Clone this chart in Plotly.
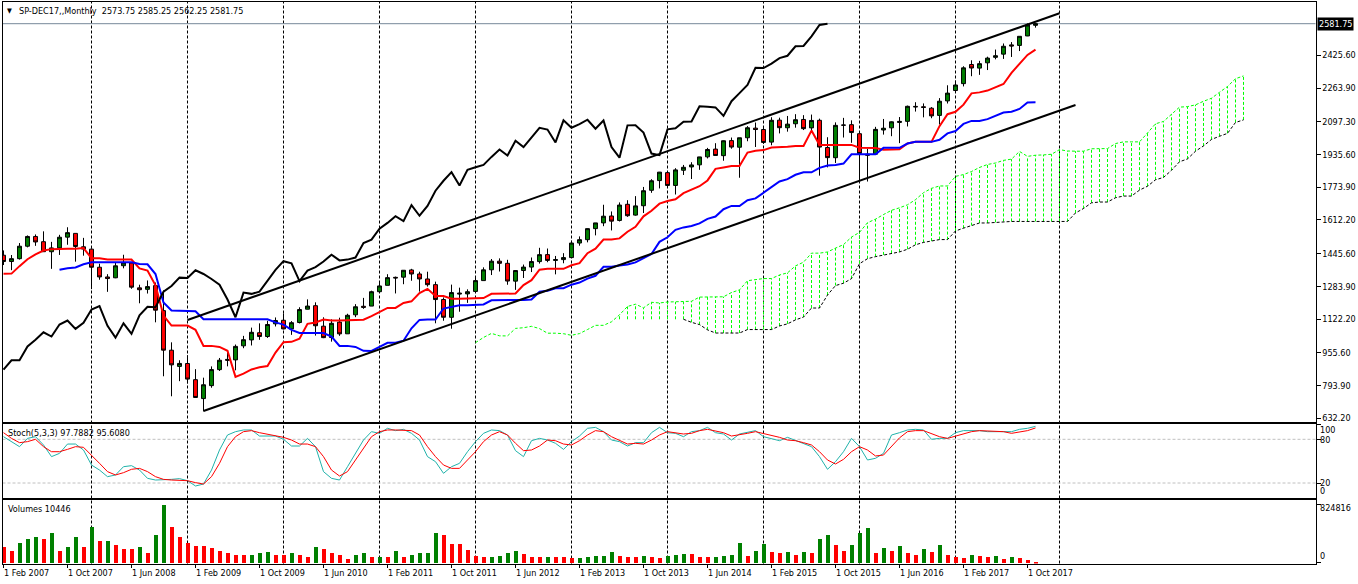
import plotly.graph_objects as go

# SP-DEC17 monthly, Feb 2007 .. Nov 2017 (bar index 0 = Feb 2007)
opens = [
    1437.9, 1406.8, 1420.8, 1482.4, 1530.6, 1504.7, 1455.2, 1474.0, 1527.3, 1545.8,
    1479.6, 1468.0, 1378.6, 1330.5, 1326.4, 1386.0, 1399.6, 1276.7, 1269.4, 1287.8,
    1164.2, 968.7, 888.6, 903.0, 823.1, 729.6, 793.6, 872.7, 923.3, 920.8,
    990.2, 1019.5, 1054.9, 1036.2, 1098.9, 1116.6, 1073.9, 1105.4, 1171.2, 1188.6,
    1087.3, 1031.1, 1107.5, 1049.7, 1143.5, 1185.7, 1186.6, 1257.6, 1289.1, 1328.6,
    1329.5, 1365.2, 1345.2, 1320.6, 1292.6, 1219.1, 1131.2, 1251.0, 1246.9, 1258.9,
    1312.5, 1365.9, 1408.5, 1397.9, 1309.9, 1362.3, 1379.3, 1406.5, 1440.9, 1412.2,
    1416.2, 1426.2, 1498.1, 1514.7, 1569.2, 1597.6, 1631.7, 1609.8, 1689.4, 1636.0,
    1682.4, 1758.7, 1806.6, 1845.9, 1782.7, 1857.7, 1874.0, 1884.4, 1923.9, 1962.3,
    1929.8, 2004.1, 1971.4, 2018.2, 2065.8, 2058.9, 1996.7, 2105.2, 2067.6, 2087.4,
    2108.6, 2067.0, 2104.5, 1970.1, 1919.7, 2080.8, 2082.9, 2038.2, 1936.9, 1937.1,
    2056.6, 2067.2, 2093.9, 2099.3, 2173.2, 2171.3, 2164.3, 2128.7, 2200.2, 2251.6,
    2285.6, 2380.1, 2362.3, 2388.5, 2415.6, 2431.4, 2477.1, 2474.4, 2521.2, 2573.75,
]
highs = [
    1461.6, 1438.9, 1498.0, 1535.6, 1540.6, 1555.9, 1503.9, 1538.7, 1576.1, 1545.8,
    1523.6, 1471.8, 1396.0, 1344.2, 1404.0, 1440.2, 1404.1, 1292.2, 1313.2, 1303.0,
    1264.3, 1007.5, 918.9, 943.9, 875.0, 833.0, 888.7, 930.2, 956.2, 996.7,
    1039.5, 1080.2, 1101.4, 1113.7, 1130.4, 1150.5, 1112.4, 1180.7, 1219.8, 1205.1,
    1131.2, 1121.0, 1129.2, 1148.7, 1196.1, 1227.1, 1262.6, 1302.7, 1344.1, 1332.3,
    1364.6, 1370.6, 1356.5, 1356.5, 1307.4, 1229.3, 1292.7, 1277.6, 1269.4, 1333.5,
    1378.0, 1419.2, 1422.4, 1415.3, 1363.5, 1391.7, 1426.7, 1474.5, 1471.0, 1434.3,
    1448.0, 1509.9, 1530.9, 1570.3, 1597.6, 1687.2, 1654.2, 1698.8, 1709.7, 1729.9,
    1775.2, 1813.6, 1849.4, 1850.8, 1867.9, 1884.0, 1897.3, 1924.0, 1968.2, 1991.4,
    2005.0, 2019.3, 2018.2, 2075.8, 2093.6, 2072.4, 2119.6, 2117.5, 2125.9, 2134.7,
    2129.9, 2132.8, 2112.7, 2020.9, 2094.3, 2116.5, 2104.3, 2038.2, 1963.0, 2072.2,
    2111.1, 2099.1, 2120.6, 2177.1, 2193.8, 2187.9, 2169.6, 2214.1, 2277.5, 2301.0,
    2371.5, 2401.0, 2398.2, 2418.7, 2454.0, 2484.0, 2490.9, 2519.4, 2583.0, 2585.25,
]
lows = [
    1389.4, 1364.0, 1416.4, 1476.7, 1484.2, 1454.3, 1370.6, 1439.3, 1489.6, 1406.1,
    1435.7, 1270.1, 1316.8, 1257.0, 1324.4, 1373.1, 1272.0, 1200.4, 1248.6, 1106.4,
    839.8, 741.0, 815.7, 804.3, 734.5, 666.8, 783.3, 866.1, 888.9, 869.3,
    978.5, 992.0, 1020.0, 1029.4, 1085.9, 1071.6, 1044.5, 1101.0, 1170.7, 1040.8,
    1028.3, 1010.9, 1039.7, 1049.7, 1131.9, 1173.0, 1186.6, 1257.6, 1289.1, 1249.1,
    1294.7, 1311.8, 1258.1, 1282.9, 1101.5, 1114.2, 1074.8, 1158.7, 1202.4, 1258.9,
    1312.5, 1340.0, 1357.4, 1292.0, 1266.7, 1325.4, 1354.7, 1396.6, 1403.3, 1343.4,
    1398.1, 1426.2, 1485.0, 1501.5, 1536.0, 1581.3, 1560.3, 1604.6, 1627.5, 1633.4,
    1646.5, 1746.2, 1768.0, 1770.5, 1737.9, 1834.4, 1814.4, 1859.8, 1916.0, 1930.7,
    1904.8, 1964.0, 1820.7, 2001.0, 1972.6, 1988.1, 1980.9, 2039.7, 2048.4, 2067.9,
    2056.3, 2044.0, 1831.0, 1871.9, 1893.7, 2019.4, 1993.3, 1804.0, 1802.0, 1937.1,
    2033.8, 2025.9, 1991.7, 2074.0, 2147.6, 2119.1, 2114.7, 2083.8, 2187.4, 2245.1,
    2271.7, 2322.3, 2329.0, 2352.7, 2405.7, 2407.7, 2417.4, 2446.6, 2520.4, 2562.25,
]
closes = [
    1406.8, 1420.9, 1482.4, 1530.6, 1503.4, 1455.3, 1474.0, 1526.8, 1549.4, 1481.1,
    1468.4, 1378.6, 1330.6, 1322.7, 1385.6, 1400.4, 1280.0, 1267.4, 1282.8, 1166.4,
    968.8, 896.2, 903.3, 825.9, 735.1, 797.9, 872.8, 919.1, 919.3, 987.5,
    1020.6, 1057.1, 1036.2, 1095.6, 1115.1, 1073.9, 1104.5, 1169.4, 1186.7, 1089.4,
    1030.7, 1101.6, 1049.3, 1141.2, 1183.3, 1180.6, 1257.6, 1286.1, 1327.2, 1325.8,
    1363.6, 1345.2, 1320.6, 1292.3, 1218.9, 1131.4, 1253.3, 1247.0, 1257.6, 1312.4,
    1365.7, 1408.5, 1397.9, 1310.3, 1362.2, 1379.3, 1406.6, 1440.7, 1412.2, 1416.2,
    1426.2, 1498.1, 1514.7, 1569.2, 1597.6, 1630.7, 1606.3, 1685.7, 1633.0, 1681.6,
    1756.5, 1805.8, 1848.4, 1782.6, 1859.5, 1872.3, 1884.0, 1923.6, 1960.2, 1930.7,
    2003.4, 1972.3, 2018.1, 2067.6, 2058.9, 1995.0, 2104.5, 2067.9, 2085.5, 2107.4,
    2063.1, 2103.8, 1972.2, 1920.0, 2079.4, 2080.4, 2043.9, 1940.2, 1932.2, 2059.7,
    2065.3, 2097.0, 2098.9, 2173.6, 2171.0, 2168.3, 2126.2, 2198.8, 2238.8, 2278.9,
    2363.6, 2362.7, 2384.2, 2411.8, 2423.4, 2470.3, 2471.7, 2519.4, 2575.3, 2581.75,
]
volumes = [
    224800, 178400, 281000, 337200, 375200, 337000, 431400, 178500, 224800, 375200,
    234700, 515700, 309100, 319000, 262800, 206600, 196700, 224800, 150300, 403300,
    824816, 505800, 375200, 281000, 248700, 245900, 215000, 178400, 140500, 122200,
    119400, 122300, 150300, 164400, 122200, 119400, 150300, 122200, 84300, 234700,
    196700, 140500, 122200, 56200, 122200, 140500, 84300, 94100, 84300, 178400,
    84300, 122200, 140500, 150300, 431400, 403300, 271200, 267000, 186900, 108200,
    84300, 94100, 108200, 150300, 178400, 130700, 94100, 84300, 94100, 91300,
    88500, 70300, 73100, 94100, 97000, 108200, 164400, 108200, 94100, 91300,
    108200, 84300, 70300, 108200, 111000, 130700, 127900, 84300, 82900, 94100,
    95500, 122200, 290900, 108200, 178400, 271200, 164400, 150300, 151700, 122200,
    164400, 150300, 337200, 403300, 262800, 178400, 262800, 431400, 501600, 150300,
    220600, 178400, 248700, 150300, 122200, 206600, 164400, 262800, 122200, 94100,
    80100, 122200, 108200, 94100, 108200, 66000, 94100, 80100, 52000, 10446,
]
stoch_k = [
    83.6, 76.8, 69.9, 81.3, 83.6, 72.2, 56.2, 60.7, 73.5, 73.5,
    65.3, 44.7, 37.8, 28.7, 31.0, 42.4, 43.8, 37.8, 26.4, 24.1,
    24.1, 25.0, 26.0, 23.2, 15.9, 18.6, 37.8, 65.3, 85.9, 90.5,
    92.8, 92.8, 84.5, 84.5, 84.5, 80.0, 70.8, 70.8, 81.3, 69.9,
    35.6, 26.4, 24.1, 42.4, 60.7, 79.0, 90.5, 88.2, 95.1, 91.9,
    93.7, 88.2, 79.0, 56.2, 49.3, 33.3, 42.4, 47.0, 63.0, 76.8,
    88.2, 92.8, 91.9, 85.9, 64.4, 56.2, 78.1, 81.3, 79.0, 74.5,
    66.2, 76.8, 84.5, 95.1, 96.4, 90.5, 79.0, 76.8, 70.8, 75.4,
    75.4, 89.1, 96.4, 89.1, 88.2, 83.6, 90.5, 91.9, 96.4, 89.1,
    87.3, 79.0, 87.3, 89.1, 91.9, 83.6, 81.3, 78.1, 82.7, 78.1,
    73.5, 69.9, 56.2, 38.8, 49.3, 63.0, 81.3, 69.9, 51.6, 53.9,
    60.7, 85.9, 89.1, 92.8, 93.7, 92.8, 80.0, 81.3, 81.3, 89.1,
    91.9, 91.9, 91.9, 90.5, 90.5, 90.5, 90.5, 93.7, 95.1, 97.79,
]
stoch_d = [
    89.1, 81.3, 75.4, 76.8, 80.0, 69.9, 63.0, 63.0, 66.2, 69.9,
    69.0, 58.4, 47.0, 35.6, 31.0, 34.2, 38.8, 40.1, 35.6, 28.7,
    25.0, 24.1, 24.1, 23.2, 20.5, 18.6, 28.7, 47.0, 69.9, 83.6,
    90.5, 91.9, 89.1, 87.3, 84.5, 82.7, 79.0, 73.5, 73.5, 69.9,
    56.2, 37.8, 29.6, 35.6, 51.6, 67.6, 83.6, 90.5, 92.8, 92.8,
    92.8, 91.9, 85.9, 69.9, 56.2, 44.7, 40.1, 40.1, 51.6, 63.0,
    76.8, 85.9, 90.5, 85.9, 74.5, 64.4, 65.3, 70.8, 79.0, 78.1,
    73.5, 72.2, 78.1, 85.9, 91.9, 90.5, 83.6, 78.1, 73.5, 74.5,
    73.5, 79.0, 85.9, 90.5, 89.1, 87.3, 88.2, 91.9, 93.7, 91.9,
    89.1, 84.5, 85.9, 88.2, 90.5, 88.2, 85.9, 82.7, 79.0, 78.1,
    75.4, 72.2, 63.0, 51.6, 46.1, 52.5, 63.0, 69.9, 65.3, 57.1,
    58.4, 69.9, 82.0, 90.5, 91.9, 91.9, 87.3, 83.6, 81.3, 84.5,
    87.3, 90.5, 91.9, 91.4, 90.9, 90.5, 88.2, 90.5, 91.9, 95.61,
]
# Ichimoku lines
tenkan = [
    1346, 1347, 1384, 1418, 1442, 1461, 1468, 1470, 1470.05, 1470.05,
    1473.35, 1423.1, 1423.1, 1416.55, 1416.55, 1416.55, 1416.55, 1373.1, 1362.0, 1289.1,
    1140.0, 1090.6, 1090.6, 1090.6, 1069.3, 990.0, 990.0, 984.9, 965.55, 837.15,
    853.15, 873.5, 884.1, 890.25, 956.85, 1008.3, 1009.9, 1025.0, 1099.15, 1105.9,
    1119.9, 1115.35, 1115.35, 1115.35, 1115.35, 1119.0, 1136.75, 1156.8, 1177.5, 1177.5,
    1202.15, 1210.15, 1251.25, 1271.8, 1236.05, 1236.05, 1222.7, 1222.7, 1222.7, 1222.7,
    1226.4, 1247.0, 1248.6, 1248.6, 1248.6, 1290.55, 1314.55, 1366.7, 1370.6, 1370.6,
    1370.6, 1388.3, 1398.8, 1447.85, 1470.5, 1515.3, 1515.3, 1521.1, 1553.9, 1578.05,
    1630.1, 1657.55, 1692.7, 1705.55, 1714.1, 1744.3, 1762.4, 1778.7, 1807.35, 1864.65,
    1871.45, 1878.6, 1878.6, 1945.1, 1954.0, 1957.15, 1970.15, 1970.15, 1973.3, 1977.7,
    1977.7, 2053.65, 1982.85, 1982.85, 1982.85, 1982.85, 1982.85, 1969.35, 1967.4, 1967.4,
    1959.25, 1959.25, 1961.3, 1989.55, 1997.9, 1997.9, 1997.9, 2075.6, 2134.6, 2146.35,
    2181.6, 2237.5, 2242.4, 2251.25, 2268.9, 2283.9, 2339.15, 2382.25, 2427.35, 2453.8,
]
kijun_start = 7
kijun = [
    1366, 1374, 1377, 1393, 1403, 1403, 1403, 1403, 1403, 1403,
    1395, 1393, 1345, 1204, 1165, 1163, 1163, 1161, 1121.45, 1121.45,
    1121.45, 1121.45, 1121.45, 1121.45, 1121.45, 1121.45, 1121.45, 1106.3, 1095.2, 1069.3,
    1053.5, 1053.5, 1053.5, 1053.5, 1035.45, 990.0, 990.0, 984.9, 965.55, 964.7,
    984.75, 1005.45, 1005.45, 1015.7, 1076.95, 1118.35, 1119.95, 1119.95, 1174.55, 1181.3,
    1190.75, 1190.75, 1190.75, 1194.45, 1215.05, 1216.65, 1216.65, 1216.65, 1216.65, 1218.8,
    1257.1, 1262.1, 1274.65, 1274.65, 1292.35, 1302.85, 1322.55, 1336.2, 1381.0, 1381.0,
    1386.8, 1392.25, 1402.35, 1425.0, 1444.2, 1504.05, 1526.6, 1563.4, 1575.35, 1582.0,
    1595.35, 1617.45, 1629.05, 1665.2, 1681.35, 1681.35, 1709.6, 1718.5, 1745.85, 1772.9,
    1802.3, 1813.7, 1835.35, 1847.5, 1847.5, 1869.65, 1881.1, 1884.05, 1890.6, 1936.3,
    1936.3, 1936.3, 1936.3, 1968.35, 1968.35, 1968.35, 1989.55, 1997.9, 1997.9, 1997.9,
    2008.05, 2039.75, 2051.5, 2086.75, 2101.5, 2101.5, 2110.35, 2128.0, 2143.0, 2146.45,
    2160.7, 2192.5, 2193.6,
]
ichimoku_shift = 26
senkou_start = 33          # source bar of the first cloud value
senkou_b_line_from = 59    # span B line only drawn from this source bar
senkou_a = [
    1005.85, 1031.6, 1051.75, 1039.6, 1039.25, 1076.3, 1079.7, 1086.7, 1075.4, 1052.7,
    1052.7, 1050.1, 1042.3, 1050.7, 1070.8, 1091.5, 1091.5, 1108.9, 1143.55, 1184.8,
    1195.9, 1178.0, 1205.3, 1202.0, 1206.7, 1206.7, 1206.7, 1210.4, 1231.0, 1232.6,
    1232.6, 1232.6, 1253.6, 1266.7, 1311.9, 1316.35, 1322.6, 1322.6, 1340.3, 1350.8,
    1385.2, 1403.35, 1448.15, 1448.15, 1453.95, 1473.1, 1490.2, 1527.55, 1550.9, 1598.4,
    1616.1, 1638.75, 1659.8, 1672.2, 1687.0, 1712.4, 1746.85, 1768.3, 1780.0, 1780.0,
    1827.35, 1836.25, 1851.5, 1871.5, 1886.2, 1893.5, 1906.5, 1912.6, 1950.6, 1926.25,
    1932.0, 1933.45, 1936.7, 1959.6, 1952.8, 1951.85, 1951.85, 1963.8, 1963.8, 1964.8,
    1989.55, 1997.9, 1997.9, 1997.9, 2041.8, 2087.2, 2098.9, 2134.2, 2169.5, 2171.95,
    2180.8, 2198.45, 2213.45, 2242.8, 2271.5, 2309.9, 2323.7,
]
senkou_b = [
    1121.45, 1121.45, 1121.45, 1121.45, 1121.45, 1121.45, 1121.45, 1121.45, 1121.45, 1121.45,
    1121.45, 1121.45, 1121.45, 1121.45, 1121.45, 1121.45, 1121.45, 1121.45, 1121.45, 1121.45,
    1121.45, 1121.45, 1121.45, 1121.45, 1121.45, 1121.45, 1121.45, 1106.3, 1095.2, 1069.3,
    1053.5, 1053.5, 1053.5, 1053.5, 1070.65, 1070.65, 1070.65, 1070.65, 1088.35, 1098.85,
    1118.55, 1132.2, 1177.0, 1177.0, 1241.05, 1287.9, 1299.6, 1322.25, 1396.05, 1420.7,
    1430.85, 1439.4, 1447.45, 1454.1, 1467.45, 1489.55, 1501.15, 1507.95, 1515.1, 1515.1,
    1557.75, 1571.65, 1584.2, 1597.2, 1597.2, 1600.35, 1604.75, 1604.75, 1604.75, 1604.75,
    1604.75, 1604.75, 1604.75, 1604.75, 1604.75, 1646.7, 1668.55, 1696.8, 1700.7, 1700.7,
    1721.9, 1730.25, 1730.25, 1759.6, 1778.75, 1810.45, 1822.2, 1857.45, 1899.55, 1913.6,
    1951.85, 1977.75, 2010.0, 2025.6, 2039.85, 2093.8, 2106.4,
]
# hand-drawn channel (bar, price) anchors
channel_upper = [(23, 1117.9), (132, 2633.1)]
channel_lower = [(25, 668.0), (134, 2180.1)]

grid_bars = [11, 23, 35, 47, 59, 71, 83, 95, 107, 119, 132]
date_labels = ["1 Feb 2007", "1 Oct 2007", "1 Jun 2008", "1 Feb 2009", "1 Oct 2009",
               "1 Jun 2010", "1 Feb 2011", "1 Oct 2011", "1 Jun 2012", "1 Feb 2013",
               "1 Oct 2013", "1 Jun 2014", "1 Feb 2015", "1 Oct 2015", "1 Jun 2016",
               "1 Feb 2017", "1 Oct 2017"]
label_step = 8
price_ticks = [632.2, 793.9, 955.6, 1122.2, 1283.9, 1445.6, 1612.2, 1773.9,
               1935.6, 2097.3, 2263.9, 2425.6]
last_price = 2581.75
vol_max = 824816

W, H = 1358, 584
FONT = "Tahoma, 'DejaVu Sans Condensed', 'Liberation Sans', Arial, sans-serif"


def fx(p):
    return p / W


def fy(p):
    return 1 - p / H


bars = list(range(len(closes)))
x_rng = [-0.125, 164.0]
vol_per_px = vol_max / 58.7

fig = go.Figure()

fig.add_trace(go.Candlestick(
    x=bars, open=opens, high=highs, low=lows, close=closes,
    increasing=dict(line=dict(color="black", width=1), fillcolor="#008000"),
    decreasing=dict(line=dict(color="black", width=1), fillcolor="#ff0000"),
    whiskerwidth=0, hoverinfo="skip", xaxis="x", yaxis="y"))

cloud_x = [b + ichimoku_shift for b in range(senkou_start, senkou_start + len(senkou_a))]
hx, hy = [], []
for cx, a, b in zip(cloud_x, senkou_a, senkou_b):
    if a > b:
        hx += [cx, cx, None]
        hy += [b, a, None]
fig.add_trace(go.Scatter(x=hx, y=hy, mode="lines", hoverinfo="skip",
                         line=dict(color="#00ff00", width=1, dash="3px,2px")))
fig.add_trace(go.Scatter(x=cloud_x, y=senkou_a, mode="lines", hoverinfo="skip",
                         line=dict(color="#00ff00", width=1, dash="3px,2px")))
off = senkou_b_line_from - senkou_start
fig.add_trace(go.Scatter(x=cloud_x[off:], y=senkou_b[off:], mode="lines", hoverinfo="skip",
                         line=dict(color="black", width=1, dash="3px,2px")))

fig.add_trace(go.Scatter(x=bars, y=tenkan, mode="lines", hoverinfo="skip",
                         line=dict(color="#ff0000", width=2)))
fig.add_trace(go.Scatter(x=bars[kijun_start:], y=kijun, mode="lines", hoverinfo="skip",
                         line=dict(color="#0000ff", width=2)))
fig.add_trace(go.Scatter(x=bars[:len(bars) - ichimoku_shift], y=closes[ichimoku_shift:],
                         mode="lines", hoverinfo="skip", line=dict(color="black", width=2)))

for ch in (channel_upper, channel_lower):
    fig.add_trace(go.Scatter(x=[p[0] for p in ch], y=[p[1] for p in ch], mode="lines",
                             hoverinfo="skip", line=dict(color="black", width=2)))

fig.add_trace(go.Scatter(x=bars, y=stoch_k, mode="lines", hoverinfo="skip",
                         line=dict(color="#20b2aa", width=1), xaxis="x2", yaxis="y2"))
fig.add_trace(go.Scatter(x=bars, y=stoch_d, mode="lines", hoverinfo="skip",
                         line=dict(color="#ff0000", width=1), xaxis="x2", yaxis="y2"))

vol_colors = ["#ff0000"] + ["#008000" if volumes[i] > volumes[i - 1] else "#ff0000"
                            for i in range(1, len(volumes))]
fig.add_trace(go.Bar(x=bars, y=volumes, width=0.6, marker=dict(color=vol_colors, line=dict(width=0)),
                     hoverinfo="skip", xaxis="x3", yaxis="y3"))

frame = dict(showline=True, mirror=True, linecolor="black", linewidth=1,
             showgrid=False, zeroline=False, fixedrange=True)
xdom = [fx(2.5), fx(1315.5)]
tickfont = dict(family=FONT, size=9, color="black")

fig.update_layout(
    width=W, height=H, margin=dict(l=0, r=0, t=0, b=0),
    paper_bgcolor="white", plot_bgcolor="rgba(0,0,0,0)", showlegend=False,
    bargap=0,
    xaxis=dict(domain=xdom, range=x_rng, anchor="y", showticklabels=False, ticks="",
               rangeslider=dict(visible=False), **frame),
    xaxis2=dict(domain=xdom, range=x_rng, anchor="y2", showticklabels=False, ticks="", **frame),
    xaxis3=dict(domain=xdom, range=x_rng, anchor="y3", showticklabels=False, ticks="outside",
                ticklen=3, tickcolor="black",
                tickvals=[k * label_step for k in range(len(date_labels))], **frame),
    yaxis=dict(domain=[fy(421.5), fy(1.5)], range=[616.4, 2691.4], anchor="x", side="right",
               tickvals=price_ticks, ticktext=[f"{v:.2f}" for v in price_ticks],
               ticks="outside", ticklen=4, tickcolor="black", tickfont=tickfont,
               automargin=False, **frame),
    yaxis2=dict(domain=[fy(497.5), fy(423.5)], range=[0.1, 101.7], anchor="x2", side="right",
                tickvals=[0, 20, 80, 100], showticklabels=False, ticks="outside", ticklen=4,
                tickcolor="black", automargin=False, **frame),
    yaxis3=dict(domain=[fy(563.5), fy(499.5)], range=[-0.8 * vol_per_px, 63.2 * vol_per_px],
                anchor="x3", side="right", tickvals=[0, vol_max], showticklabels=False,
                ticks="outside", ticklen=4, tickcolor="black", automargin=False, **frame),
)

shapes = []
for g in grid_bars:
    shapes.append(dict(type="line", xref="x", yref="paper", x0=g, x1=g,
                       y0=fy(563.5), y1=fy(1.5), layer="below",
                       line=dict(color="black", width=1, dash="3px,2px")))
shapes.append(dict(type="line", xref="paper", yref="y", x0=xdom[0], x1=xdom[1],
                   y0=last_price, y1=last_price, layer="below",
                   line=dict(color="#778899", width=1)))
for lvl in (20, 80):
    shapes.append(dict(type="line", xref="paper", yref="y2", x0=xdom[0], x1=xdom[1],
                       y0=lvl, y1=lvl, layer="below",
                       line=dict(color="#c0c0c0", width=1, dash="3px,2px")))
fig.update_layout(shapes=shapes)

ann = []


def txt(x, y, s, size=9, color="black", anchor="left", **kw):
    ann.append(dict(x=x, y=y, xref="paper", yref="paper", text=s, showarrow=False,
                    xanchor=anchor, yanchor="middle",
                    font=dict(family=FONT, size=size, color=color), **kw))


txt(fx(9.5), fy(11), "\u25bc", size=7, anchor="center")
txt(fx(16.5), fy(10.5), "SP-DEC17,,Monthly\u00a0\u00a02573.75 2585.25 2562.25 2581.75")
txt(fx(5.5), fy(432.5), "Stoch(5,3,3) 97.7882 95.6080")
txt(fx(5.5), fy(509.3), "Volumes 10446")
for s, yy in (("100", 430), ("80", 440), ("20", 483.3), ("0", 491)):
    txt(fx(1318), fy(yy), s)
txt(fx(1318), fy(507.7), str(vol_max))
txt(fx(1318), fy(556), "0")
for k, lab in enumerate(date_labels):
    ann.append(dict(x=k * label_step, y=fy(572.7), xref="x3", yref="paper", text=lab,
                    showarrow=False, xanchor="left", yanchor="middle", xshift=-2,
                    font=dict(family=FONT, size=9, color="black")))
ann.append(dict(x=fx(1316.5), y=last_price, xref="paper", yref="y", text=f"{last_price:.2f}",
                showarrow=False, xanchor="left", yanchor="middle", bgcolor="black",
                borderpad=1, font=dict(family=FONT, size=9, color="white")))
fig.update_layout(annotations=ann)

fig.write_html("out.html", config={"displayModeBar": False},
               post_script="document.body.style.margin='0';document.body.style.overflow='hidden';")
